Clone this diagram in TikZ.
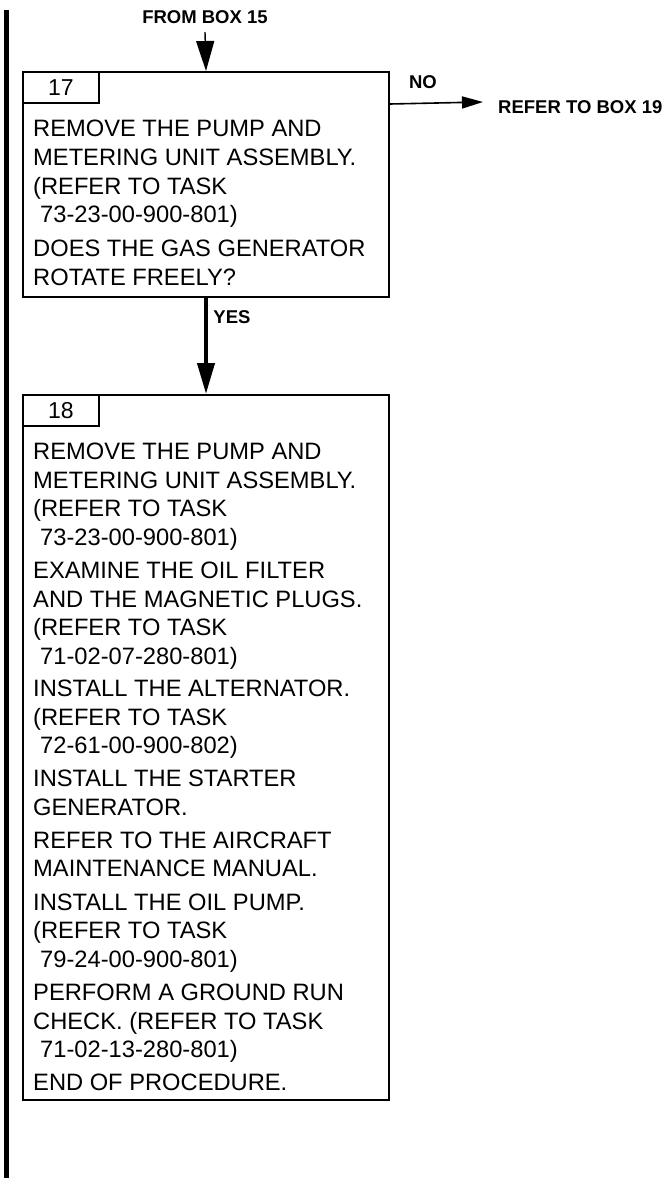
\documentclass[tikz,border=0pt]{standalone}
\usepackage{fontspec}
\setmainfont{Liberation Sans}
\usetikzlibrary{arrows.meta}
\begin{document}
\begin{tikzpicture}[x=1pt,y=-1pt,
  box/.style={draw, line width=2pt, anchor=north west, minimum width=366pt, inner sep=0pt},
  numbox/.style={draw, line width=2pt, anchor=north west, minimum width=76pt, minimum height=31pt, inner sep=0pt, font=\fontsize{23}{28}\selectfont},
  ln/.style={anchor=base west, inner sep=0pt, font=\fontsize{23.7}{28.8}\selectfont},
  lbl/.style={inner sep=0pt, font=\fontsize{18.5}{22}\selectfont\bfseries},
]
\useasboundingbox (0,0) rectangle (669,1178);
% left change bar
\draw[line width=5pt] (6.5,10) -- (6.5,1178);

% box 17
\node[box, minimum height=225pt] (b17) at (22,71) {};
\node[numbox] (n17) at (22,71) {17};
\node[ln] (b17l1) at (33,136.5) {REMOVE THE PUMP AND};
\node[ln] (b17l2) at (33,165.3) {METERING UNIT ASSEMBLY.};
\node[ln] (b17l3) at (33,194.1) {(REFER TO TASK};
\node[ln] (b17l4) at (40,222.9) {73-23-00-900-801)};
\node[ln] (b17l5) at (33,256.5) {DOES THE GAS GENERATOR};
\node[ln] (b17l6) at (33,285.3) {ROTATE FREELY?};

% box 18
\node[box, minimum height=705pt] (b18) at (22,394) {};
\node[numbox] (n18) at (22,394) {18};
\node[ln] (b18l1) at (33,459.5) {REMOVE THE PUMP AND};
\node[ln] (b18l2) at (33,488.2) {METERING UNIT ASSEMBLY.};
\node[ln] (b18l3) at (33,516.9) {(REFER TO TASK};
\node[ln] (b18l4) at (40,545.6) {73-23-00-900-801)};
\node[ln] (b18l5) at (33,578.5) {EXAMINE THE OIL FILTER};
\node[ln] (b18l6) at (33,607.2) {AND THE MAGNETIC PLUGS.};
\node[ln] (b18l7) at (33,635.9) {(REFER TO TASK};
\node[ln] (b18l8) at (40,664.6) {71-02-07-280-801)};
\node[ln] (b18l9) at (33,696.5) {INSTALL THE ALTERNATOR.};
\node[ln] (b18l10) at (33,725.2) {(REFER TO TASK};
\node[ln] (b18l11) at (40,753.9) {72-61-00-900-802)};
\node[ln] (b18l12) at (33,786.3) {INSTALL THE STARTER};
\node[ln] (b18l13) at (33,815.0) {GENERATOR.};
\node[ln] (b18l14) at (33,848.0) {REFER TO THE AIRCRAFT};
\node[ln] (b18l15) at (33,876.7) {MAINTENANCE MANUAL.};
\node[ln] (b18l16) at (33,910.0) {INSTALL THE OIL PUMP.};
\node[ln] (b18l17) at (33,938.7) {(REFER TO TASK};
\node[ln] (b18l18) at (40,967.4) {79-24-00-900-801)};
\node[ln] (b18l19) at (33,1000.5) {PERFORM A GROUND RUN};
\node[ln] (b18l20) at (33,1029.2) {CHECK. (REFER TO TASK};
\node[ln] (b18l21) at (40,1057.9) {71-02-13-280-801)};
\node[ln] (b18l22) at (33,1090.5) {END OF PROCEDURE.};

% incoming
\node[lbl] (from) at (205,17) {FROM BOX 15};
\coordinate (fromS) at (205,32);
\draw[line width=1.4pt, -{Triangle[length=30pt,width=18pt]}] (fromS) -- (b17.north);

% YES
\draw[line width=4pt, -{Triangle[length=31pt,width=17pt]}] (b17.south) -- (b18.north);
\node[lbl] (yes) at (232,317) {YES};

% NO
\coordinate (noE) at (483,102);
\draw[line width=1.6pt, -{Triangle[length=21pt,width=12pt]}] (b17.east |- n17.south) -- (noE);
\node[lbl] (no) at (423,82) {NO};
\node[lbl, anchor=west] (ref19) at (498,107) {REFER TO BOX 19};
\end{tikzpicture}
\end{document}
